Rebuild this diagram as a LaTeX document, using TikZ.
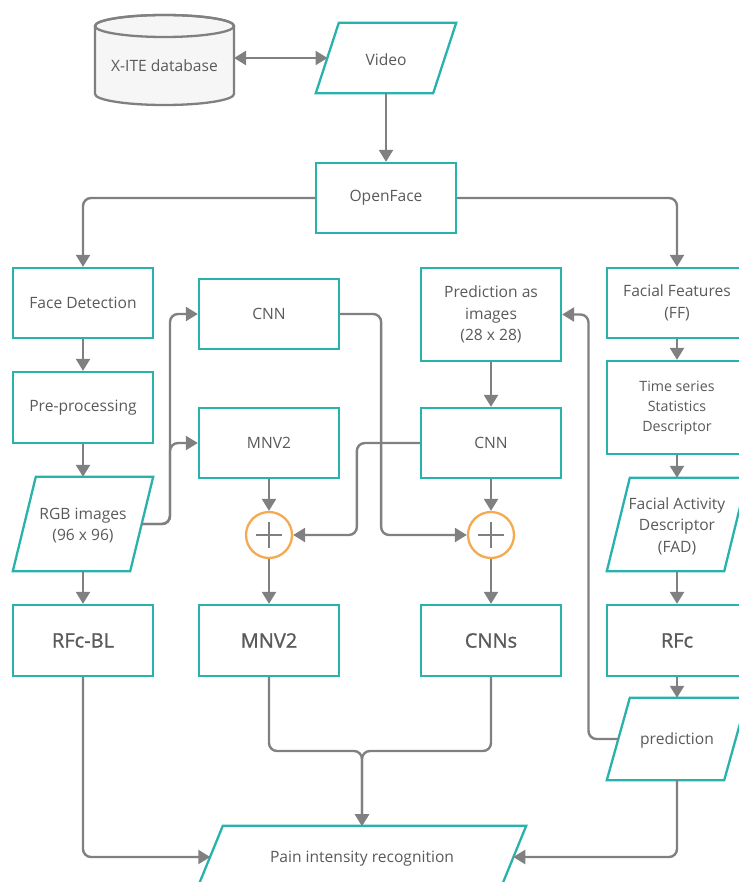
\documentclass[tikz,border=0pt]{standalone}
\usepackage{fontspec}
\setmainfont{Open Sans}
\newfontfamily\semib[FakeBold=1.0]{Open Sans}
\usetikzlibrary{arrows.meta,calc}
\definecolor{tealc}{RGB}{40,178,172}
\definecolor{orangec}{RGB}{245,170,82}
\definecolor{linec}{RGB}{128,128,128}
\definecolor{textc}{RGB}{90,90,90}
\definecolor{dbfill}{RGB}{246,246,246}
\tikzset{
  box/.style={draw=tealc, line width=2.3pt, fill=white, minimum width=140pt, minimum height=70pt, inner sep=0pt, text=textc, align=center, font=\fontsize{15.6}{21.5}\selectfont},
  pbox/.style={minimum width=140pt, minimum height=70pt, inner sep=0pt, text=textc, align=center, font=\fontsize{15.6}{21.5}\selectfont},
  paraline/.style={draw=tealc, line width=2.3pt, fill=white},
  bigtxt/.style={font=\semib\fontsize{20}{24}\selectfont},
  conn/.style={draw=linec, line width=2.4pt, rounded corners=8pt, -{Triangle[width=14pt,length=12pt]}},
  plusc/.style={circle, draw=orangec, line width=2.3pt, minimum size=46pt, inner sep=0pt, fill=white},
  plusl/.style={draw=linec, line width=1.6pt},
}
\begin{document}
\begin{tikzpicture}[x=1pt,y=-1pt]
\useasboundingbox (0,0) rectangle (738,882);
% database cylinder
\draw[draw=linec, line width=2.3pt, fill=dbfill] (95,26) -- (95,94) arc[start angle=180, end angle=360, x radius=69.5pt, y radius=11pt] -- (234,26) arc[start angle=0, end angle=180, x radius=69.5pt, y radius=11pt] -- cycle;
\draw[draw=linec, line width=2.3pt] (164.5,26) ellipse[x radius=69.5pt, y radius=11pt];
\node[pbox, minimum width=139pt, minimum height=40pt] (db) at (164.5,66) {X-ITE database};
\coordinate (dbR) at (234,58);

% parallelogram nodes (text holders)
\node[pbox] (vid) at (386,58) {};
\draw[paraline] ([xshift=23pt]vid.north west) -- (vid.north east) -- ([xshift=-23pt]vid.south east) -- (vid.south west) -- cycle;
\node[pbox] at (386,59.5) {Video};
\coordinate (vidL) at (327.5,58);

\node[pbox, minimum height=94pt] (rgb) at (83,524) {};
\draw[paraline] ([xshift=23pt]rgb.north west) -- (rgb.north east) -- ([xshift=-23pt]rgb.south east) -- (rgb.south west) -- cycle;
\node[pbox] at (83,525.5) {RGB images\\(96 x 96)};
\coordinate (rgbR) at (141.5,524);

\node[pbox, minimum height=93pt] (fad) at (677,524.5) {};
\draw[paraline] ([xshift=23pt]fad.north west) -- (fad.north east) -- ([xshift=-23pt]fad.south east) -- (fad.south west) -- cycle;
\node[pbox] at (677,526) {Facial Activity\\Descriptor\\(FAD)};

\node[pbox, minimum height=82pt] (pred) at (677,739) {};
\draw[paraline] ([xshift=23pt]pred.north west) -- (pred.north east) -- ([xshift=-23pt]pred.south east) -- (pred.south west) -- cycle;
\node[pbox] at (677,740.5) {prediction};
\coordinate (predL) at (618.5,739);

\node[pbox, minimum width=328.5pt, minimum height=62pt] (pain) at (361.75,857) {};
\draw[paraline] ([xshift=25.5pt]pain.north west) -- (pain.north east) -- ([xshift=-25.5pt]pain.south east) -- (pain.south west) -- cycle;
\node[pbox] at (362,858.5) {Pain intensity recognition};
\coordinate (painL) at (210.25,857);
\coordinate (painR) at (513.25,857);
\coordinate (painT) at (362,826);

% rectangular boxes
\node[box] (of) at (386,198) {OpenFace};
\node[box] (fd) at (83,303) {Face Detection};
\node[box, minimum height=71pt] (pp) at (83,407.5) {Pre-processing};
\node[box, minimum height=71pt, bigtxt] (rfcbl) at (83,640.5) {RFc-BL};
\node[box] (cnn1) at (269,314) {CNN};
\node[box] (mnv2a) at (269,443) {MNV2};
\node[box, minimum height=71pt, bigtxt] (mnv2b) at (269,640.5) {MNV2};
\node[box, minimum height=93pt] (pai) at (491,314.5) {Prediction as\\images\\(28 x 28)};
\node[box] (cnn2) at (491,443) {CNN};
\node[box, minimum height=71pt, bigtxt] (cnns) at (491,640.5) {CNNs};
\node[box] (ff) at (677,303) {Facial Features\\(FF)};
\node[box, minimum height=93pt, font=\fontsize{14.2}{20}\selectfont] (ts) at (677,407.5) {Time series\\Statistics\\Descriptor};
\node[box, minimum height=71pt, bigtxt] (rfc) at (677,640.5) {RFc};

% plus circles
\node[plusc] (plus1) at (269,535) {};
\node[plusc] (plus2) at (491,535) {};
\foreach \p in {plus1,plus2}{
  \draw[plusl] ([xshift=-13pt]\p.center) -- ([xshift=13pt]\p.center);
  \draw[plusl] ([yshift=-13pt]\p.center) -- ([yshift=13pt]\p.center);
}

% connectors
\draw[conn, {Triangle[width=14pt,length=12pt]}-{Triangle[width=14pt,length=12pt]}] (dbR) -- (vidL);
\draw[conn] (vid.south) -- (of.north);
\draw[conn] (of.west) -| (fd.north);
\draw[conn] (of.east) -| (ff.north);
\draw[conn] (fd.south) -- (pp.north);
\draw[conn] (pp.south) -- (rgb.north);
\draw[conn] (rgb.south) -- (rfcbl.north);
\draw[conn] (rgbR) -- ++(28.5,0) |- (cnn1.west);
\draw[conn] (rgbR) -- ++(28.5,0) |- (mnv2a.west);
\draw[conn] (mnv2a.south) -- (plus1.north);
\draw[conn] (plus1.south) -- (mnv2b.north);
\draw[conn] (cnn2.west) -- ++(-63,0) |- (plus1.east);
\draw[conn] (cnn1.east) -- ++(41,0) |- (plus2.west);
\draw[conn] (pai.south) -- (cnn2.north);
\draw[conn] (cnn2.south) -- (plus2.north);
\draw[conn] (plus2.south) -- (cnns.north);
\draw[conn] (ff.south) -- (ts.north);
\draw[conn] (ts.south) -- (fad.north);
\draw[conn] (fad.south) -- (rfc.north);
\draw[conn] (rfc.south) -- (pred.north);
\draw[conn] (predL) -- ++(-30,0) |- (pai.east);
\draw[conn] (rfcbl.south) |- (painL);
\draw[conn] (pred.south) |- (painR);
\coordinate (merge) at (362,751);
\draw[conn] (mnv2b.south) |- (merge) -- (painT);
\draw[conn] (cnns.south) |- (merge) -- (painT);
\end{tikzpicture}
\end{document}
